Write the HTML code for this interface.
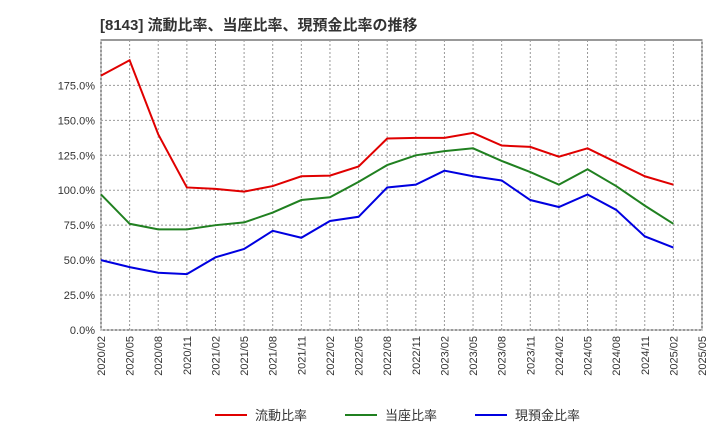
<!DOCTYPE html>
<html><head><meta charset="utf-8"><style>
body{margin:0;background:#fff;font-family:"Liberation Sans","Noto Sans CJK JP",sans-serif;}
</style></head><body>
<svg id="c" width="720" height="440" xmlns="http://www.w3.org/2000/svg">
<text x="100" y="30" font-size="15" font-weight="bold" fill="#333" font-family="Liberation Sans, Noto Sans CJK JP, sans-serif">[8143]  流動比率、当座比率、現預金比率の推移</text>
</svg>
<script>
const categories=["2020/02","2020/05","2020/08","2020/11","2021/02","2021/05","2021/08","2021/11","2022/02","2022/05","2022/08","2022/11","2023/02","2023/05","2023/08","2023/11","2024/02","2024/05","2024/08","2024/11","2025/02","2025/05"];
const currentRatio=[182,193,140,102,101,99,103,110,110.5,117,137,137.5,137.5,141,132,131,124,130,120,110,104];
const quickRatio=[97,76,72,72,75,77,84,93,95,106,118,125,128,130,121,113,104,115,103,89,76];
const cashRatio=[50,45,41,40,52,58,71,66,78,81,102,104,114,110,107,93,88,97,86,67,59];
const yTicks=[0,25,50,75,100,125,150,175];
const seriesNames=["流動比率","当座比率","現預金比率"];
const colors=["#e00000","#208020","#0000e0"];
const svg=document.getElementById('c');const NS="http://www.w3.org/2000/svg";
const L=101,R=702,T=40,B=330,yMax=207.5;
const x=i=>L+(R-L)*i/(categories.length-1);
const y=v=>B-(B-T)*v/yMax;
function mk(t,a){const e=document.createElementNS(NS,t);for(const k in a)e.setAttribute(k,a[k]);svg.appendChild(e);return e;}
let f=mk('rect',{x:L,y:T,width:R-L,height:B-T,fill:'none',stroke:'#333','stroke-width':1});


yTicks.forEach(v=>{
 const g=mk('line',{x1:L,x2:R,y1:y(v),y2:y(v),stroke:'#999','stroke-dasharray':'2,2'});
 
 
 const t=mk('text',{x:L-6,y:y(v)+4,'text-anchor':'end','font-size':11,fill:'#333'});
 t.textContent=v.toFixed(1)+'%';
 
 
});
categories.forEach((c,i)=>{
 const g=mk('line',{x1:x(i),x2:x(i),y1:T,y2:B,stroke:'#999','stroke-dasharray':'2,2'});
 
 
 const t=mk('text',{x:0,y:0,'text-anchor':'end','font-size':11,fill:'#333',transform:`translate(${x(i)+4},${B+6}) rotate(-90)`});
 t.textContent=c;
 
 
});
[currentRatio,quickRatio,cashRatio].forEach((d,s)=>{
 const p=mk('polyline',{points:d.map((v,i)=>x(i)+','+y(v)).join(' '),fill:'none',stroke:colors[s],'stroke-width':2});
 
 
 const lx=[215,345,475][s];
 const l=mk('line',{x1:lx,x2:lx+32,y1:415,y2:415,stroke:colors[s],'stroke-width':2});
 
 
 const t=mk('text',{x:lx+40,y:420,'font-size':13,fill:'#333'});
 t.textContent=seriesNames[s];
 
 
});
</script>
</body></html>
